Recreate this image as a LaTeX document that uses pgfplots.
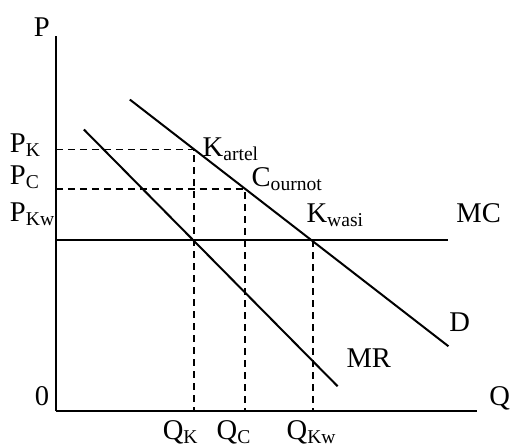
\documentclass[border=0pt]{standalone}
\usepackage{pgfplots}
\pgfplotsset{compat=1.18}
\usepackage{fontspec}
\setmainfont{Liberation Serif}

% main label size and a slightly lowered, smaller subscript
\newcommand{\lf}{\fontsize{14.3}{17}\selectfont}
\newcommand{\sub}[1]{\raisebox{-0.3ex}{\fontsize{9.8}{10}\selectfont #1}}

\tikzset{lbl/.style={font=\lf, inner sep=0pt, outer sep=0pt, anchor=base west}}

\begin{document}
\begin{tikzpicture}
\begin{axis}[
  x=0.5pt, y=0.5pt,
  xmin=0, xmax=422, ymin=0, ymax=376,
  axis lines=left,
  axis line style={-, line width=1.3pt, black},
  xtick=\empty, ytick=\empty,
  clip=false,
]
% demand curve
\addplot[black, line width=1pt] coordinates {(74,312) (393,65)};
% marginal revenue
\addplot[black, line width=1pt] coordinates {(28,282) (282,25)};
% marginal cost
\addplot[black, line width=1pt] coordinates {(0,171) (393,171)};
% guide lines for the three outcomes
\addplot[black, line width=1pt, dash pattern=on 3.5pt off 2.5pt] coordinates {(0,262) (138,262) (138,0)};
\addplot[black, line width=1pt, dash pattern=on 3.5pt off 2.5pt] coordinates {(0,222) (189,222) (189,0)};
\addplot[black, line width=1pt, dash pattern=on 3.5pt off 2.5pt] coordinates {(257,171) (257,0)};

% axis titles
\node[lbl] at (axis cs:-22,375) {P};
\node[lbl] at (axis cs:434,6) {Q};
\node[lbl] at (axis cs:-21,6) {0};

% price levels
\node[lbl] at (axis cs:-46,259) {P\sub{K}};
\node[lbl] at (axis cs:-46,227) {P\sub{C}};
\node[lbl] at (axis cs:-46,190) {P\sub{Kw}};

% quantities
\node[lbl] at (axis cs:107,-28) {Q\sub{K}};
\node[lbl] at (axis cs:161,-28) {Q\sub{C}};
\node[lbl] at (axis cs:231,-28) {Q\sub{Kw}};

% points and curve names
\node[lbl] at (axis cs:147,255) {K\sub{artel}};
\node[lbl] at (axis cs:196,225) {C\sub{ournot}};
\node[lbl] at (axis cs:251,189) {K\sub{wasi}};
\node[lbl] at (axis cs:401,189) {MC};
\node[lbl] at (axis cs:394,80) {D};
\node[lbl] at (axis cs:291,44) {MR};

% page extent
\path (axis cs:-56,-36.3) rectangle (axis cs:454,411.7);
\end{axis}
\end{tikzpicture}
\end{document}
